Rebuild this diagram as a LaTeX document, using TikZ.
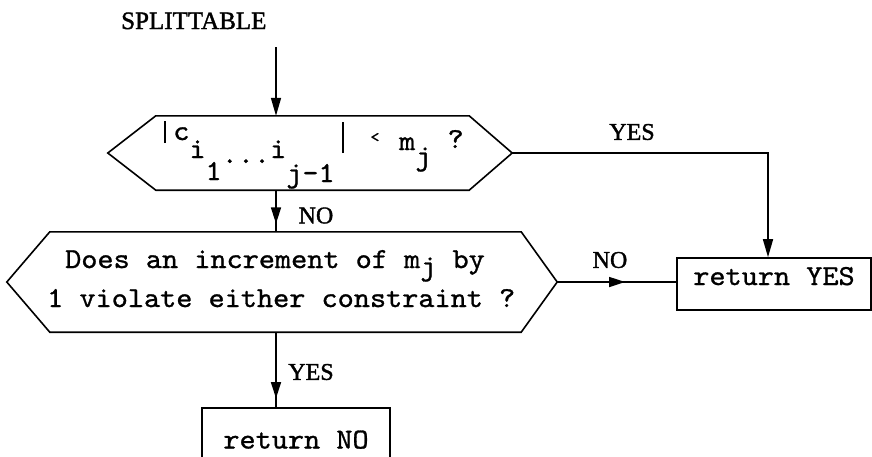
\documentclass[tikz,border=0pt]{standalone}
\usepackage{fontspec}
\usetikzlibrary{arrows.meta,decorations.markings,calc}
% typewriter face, widened to the typed pitch
\newfontfamily\monofam[FakeStretch=1.06,FakeBold=1.0]{lmmono10-regular.otf}
\newfontfamily\seriffam[FakeBold=1.5]{Liberation Serif}
\newcommand\twfont{\monofam\fontsize{29}{39}\selectfont}
\newcommand\labfont{\seriffam\fontsize{24}{28}\selectfont}
\newcommand\titlefont{\seriffam\fontsize{25}{28}\selectfont}
% vertical shift of a piece of typed text (half-line sub/superscripts)
\newcommand\shiftv[2]{\raisebox{#1pt}{#2}}
% typed absolute-value bar: raise and height
\newcommand\vbar[2]{\makebox[16.1pt]{\rule[#1pt]{1.8pt}{#2pt}}}
\begin{document}
\begin{tikzpicture}[x=1pt,y=-1pt,
  flow/.style={line width=1.6pt},
  tip/.style={-{Triangle[length=18pt,width=10pt]}},
  midarrow/.style={postaction={decorate},
    decoration={markings,mark=at position #1 with {\arrow{Triangle[length=16pt,width=10pt]}}}},
  hexnode/.style={draw=none,inner sep=0pt},
  typed/.style={font=\twfont,inner sep=0pt},
  procbox/.style={draw,line width=1.6pt,inner sep=0pt,font=\twfont},
  lab/.style={font=\labfont,inner sep=0pt}]
\useasboundingbox (0,0) rectangle (872,456);
\clip (0,0) rectangle (872,456);

% entry label
\node[font=\titlefont,inner sep=0pt,anchor=base west] (title) at (121,29) {SPLITTABLE};
\coordinate (c0) at (276,47);

% first test
\node[hexnode,minimum width=404pt,minimum height=74pt] (q1) at (310,153) {};
\draw[flow] (q1.west) -- ([xshift=48pt]q1.north west) -- ([xshift=-43pt]q1.north east)
  -- (q1.east) -- ([xshift=-43pt]q1.south east) -- ([xshift=48pt]q1.south west) -- cycle;
\node[typed,anchor=base west] (t1) at (157,150)
  {\vbar{7}{22}\shiftv{10}{c}\shiftv{-8}{i}\shiftv{-30}{1}\shiftv{-13}{...}\shiftv{-8}{i}\shiftv{-32}{j-1}\vbar{-3}{31}\ \makebox[16.1pt]{\fontsize{16}{16}\selectfont\raisebox{8pt}{<}}\ m\shiftv{-15}{j}\ \shiftv{2}{?}};

% second test
\node[hexnode,minimum width=550pt,minimum height=100pt] (q2) at (282,282) {};
\draw[flow] (q2.west) -- ([xshift=43pt]q2.north west) -- ([xshift=-36pt]q2.north east)
  -- (q2.east) -- ([xshift=-36pt]q2.south east) -- ([xshift=43pt]q2.south west) -- cycle;
\node[typed,anchor=base west] (t2a) at (65,268) {Does an increment of m\shiftv{-7}{j} by};
\node[typed,anchor=base west] (t2b) at (47,307) {1 violate either constraint ?};

% results
\node[procbox,minimum width=194pt,minimum height=52pt,text height=17pt,text depth=15pt] (ryes) at (774,284) {return YES};
\node[procbox,minimum width=188pt,minimum height=62pt,text height=19pt,text depth=0pt] (rno) at (296,439) {return NO};

% connectors
\coordinate (c1) at (768,154);
\draw[flow,tip] (c0) -- (c0 |- q1.north);
\draw[flow,midarrow=0.8] (c0 |- q1.south) -- (c0 |- q2.north);
\draw[flow,midarrow=0.88] (c0 |- q2.south) -- (c0 |- rno.north);
\draw[flow,tip] (q1.east) -- (q1.east -| c1) -- (c1 |- ryes.north);
\draw[flow,midarrow=0.57] (q2.east) -- (q2.east -| ryes.west);

% branch labels
\node[lab] (yes1) at (632,132) {YES};
\node[lab] (no1) at (316,215.5) {NO};
\node[lab] (no2) at (610,260) {NO};
\node[lab] (yes2) at (311,372) {YES};
\end{tikzpicture}
\end{document}
